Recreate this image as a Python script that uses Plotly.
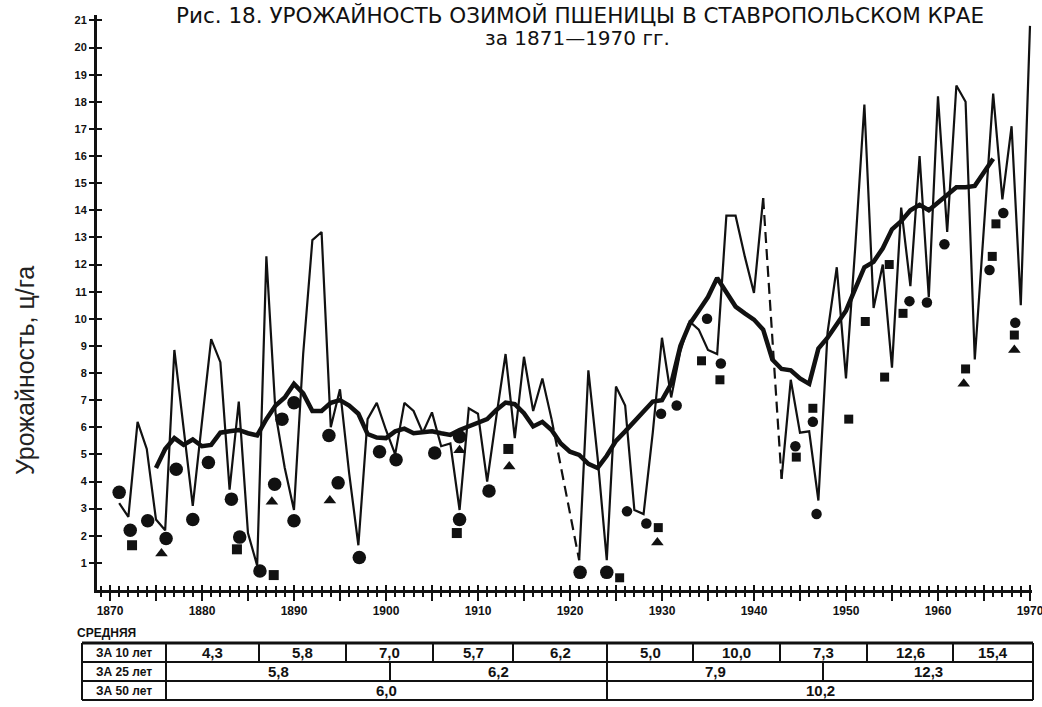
import plotly.graph_objects as go

# ---------------- DATA ----------------
years = list(range(1871, 1971))
# annual yield of winter wheat, c/ha (None = no data)
yield_annual = [
    3.2, 2.7, 6.2, 5.2, 2.6, 2.2, 8.85, 6.0, 3.1, 6.2,        # 1871-1880
    9.25, 8.4, 3.7, 6.95, 2.1, 0.9, 12.3, 6.5, 4.5, 2.95,     # 1881-1890
    8.7, 12.9, 13.2, 6.0, 7.4, 4.3, 1.65, 6.3, 6.9, 5.9,      # 1891-1900
    5.0, 6.9, 6.6, 5.8, 6.55, 5.3, 5.4, 2.95, 6.7, 6.5,       # 1901-1910
    4.0, 6.4, 8.7, 5.6, 8.6, 6.6, 7.8, 6.3, None, None,       # 1911-1920
    1.1, 8.1, 4.9, 1.1, 7.5, 6.8, 2.95, 2.8, 5.8, 9.3,        # 1921-1930
    7.1, 8.8, 9.9, 9.6, 8.85, 8.7, 13.8, 13.8, 12.3, 10.95,   # 1931-1940
    14.45, None, 4.1, 7.75, 5.8, 5.85, 3.3, 9.5, 11.9, 7.8,   # 1941-1950
    12.6, 17.9, 10.4, 12.0, 8.2, 14.1, 11.2, 16.0, 10.8, 18.2,  # 1951-1960
    13.2, 18.6, 18.0, 8.5, 13.4, 18.3, 14.4, 17.1, 10.5, 20.8,  # 1961-1970
]
# gaps bridged by dashed lines (start year, end year)
dashed_gaps = [(1918, 1921), (1941, 1943)]

# smoothed (moving average) yield
avg_years = list(range(1875, 1967))
avg_yield = [
    4.5, 5.2, 5.6, 5.35, 5.55, 5.3,                              # 1875-1880
    5.35, 5.8, 5.85, 5.9, 5.78, 5.7, 6.3, 6.8, 7.1, 7.6,         # 1881-1890
    7.25, 6.6, 6.6, 6.9, 7.0, 6.8, 6.5, 5.75, 5.62, 5.6,         # 1891-1900
    5.85, 5.95, 5.78, 5.82, 5.85, 5.78, 5.72, 5.9, 6.03, 6.15,   # 1901-1910
    6.3, 6.64, 6.91, 6.85, 6.52, 6.03, 6.2, 5.9, 5.4, 5.1,       # 1911-1920
    4.98, 4.65, 4.5, 4.95, 5.5, 5.85, 6.2, 6.6, 6.95, 7.0,       # 1921-1930
    7.6, 9.0, 9.8, 10.3, 10.8, 11.5, 11.0, 10.45, 10.2, 9.97,    # 1931-1940
    9.6, 8.5, 8.15, 8.1, 7.8, 7.6, 8.9, 9.3, 9.8, 10.3,          # 1941-1950
    11.1, 11.9, 12.1, 12.6, 13.3, 13.6, 14.0, 14.2, 14.0, 14.3,  # 1951-1960
    14.6, 14.85, 14.85, 14.9, 15.4, 15.9,                        # 1961-1966
]

# special-year symbols (year, value)
circle_years = [1871.0, 1872.2, 1874.1, 1876.1, 1877.2, 1879.0, 1880.7, 1883.2, 1884.1,
                1886.3, 1887.9, 1888.7, 1890.0, 1890.0, 1893.8, 1894.8, 1897.1, 1899.3,
                1901.1, 1905.3, 1908.0, 1908.0, 1911.2, 1921.1, 1924.0, 1926.2, 1928.3,
                1929.9, 1931.6, 1934.9, 1936.4, 1944.5, 1946.4, 1946.8, 1956.9, 1958.8,
                1960.7, 1965.6, 1967.1, 1968.4]
circle_vals = [3.6, 2.2, 2.55, 1.9, 4.45, 2.6, 4.7, 3.35, 1.95,
               0.7, 3.9, 6.3, 6.9, 2.55, 5.7, 3.95, 1.2, 5.1,
               4.8, 5.05, 5.65, 2.6, 3.65, 0.65, 0.65, 2.9, 2.45,
               6.5, 6.8, 10.0, 8.35, 5.3, 6.2, 2.8, 10.65, 10.6,
               12.75, 11.8, 13.9, 9.85]
square_years = [1872.4, 1883.8, 1887.8, 1907.7, 1913.3, 1925.4, 1929.6, 1934.3, 1936.3,
                1944.6, 1946.4, 1950.3, 1952.1, 1954.2, 1954.7, 1956.2, 1963.0, 1965.9,
                1966.3, 1968.3]
square_vals = [1.65, 1.5, 0.55, 2.1, 5.2, 0.45, 2.3, 8.45, 7.75,
               4.9, 6.7, 6.3, 9.9, 7.85, 12.0, 10.2, 8.15, 12.3,
               13.5, 9.4]
triangle_years = [1875.6, 1887.6, 1893.9, 1908.0, 1913.4, 1929.5, 1962.8, 1968.3]
triangle_vals = [1.35, 3.25, 3.3, 5.15, 4.55, 1.75, 7.6, 8.85]

# axis ticks
x_tick_vals = [1870, 1875, 1880, 1885, 1890, 1895, 1900, 1905, 1910, 1915, 1920,
               1925, 1930, 1935, 1940, 1945, 1950, 1955, 1960, 1965, 1970]
x_tick_text = ["1870", "", "1880", "", "1890", "", "1900", "", "1910", "", "1920",
               "", "1930", "", "1940", "", "1950", "", "1960", "", "1970"]
y_tick_vals = [1, 2, 3, 4, 5, 6, 7, 8, 9, 10, 11, 12, 13, 14, 15, 16, 17, 18, 19, 20, 21]

# table of means
table_header = "СРЕДНЯЯ"
period_labels = ["ЗА 10 лет", "ЗА 25 лет", "ЗА 50 лет"]
means_10 = [4.3, 5.8, 7.0, 5.7, 6.2, 5.0, 10.0, 7.3, 12.6, 15.4]
means_25 = [5.8, 6.2, 7.9, 12.3]
means_50 = [6.0, 10.2]

title_line1 = "Рис. 18. УРОЖАЙНОСТЬ ОЗИМОЙ ПШЕНИЦЫ В СТАВРОПОЛЬСКОМ КРАЕ"
title_line2 = "за 1871—1970 гг."
y_title = "Урожайность, ц/га"

# ---------------- LAYOUT GEOMETRY (pixels) ----------------
W, H = 1042, 707
PL, PR, PT, PB = 97, 1032, 15, 590     # plot area edges
X_RANGE = [1868.59, 1970.22]
Y_RANGE = [0, 21.2]


def px(xp):
    return (xp - PL) / (PR - PL)


def py(yp):
    return (PB - yp) / (PB - PT)


INK = "#111111"
SANS = "Liberation Sans, Arial, sans-serif"
TITLE_FONT = "DejaVu Sans, Liberation Sans, sans-serif"

fig = go.Figure()

# thin annual line (solid, gaps where no data)
fig.add_trace(go.Scatter(x=years, y=yield_annual, mode="lines",
                         line=dict(color=INK, width=2.2), connectgaps=False,
                         hoverinfo="skip", showlegend=False))
# dashed bridges across missing years
for y0, y1 in dashed_gaps:
    i0, i1 = years.index(y0), years.index(y1)
    fig.add_trace(go.Scatter(x=[years[i0], years[i1]],
                             y=[yield_annual[i0], yield_annual[i1]],
                             mode="lines", line=dict(color=INK, width=2.2, dash="11px,6px"),
                             hoverinfo="skip", showlegend=False))
# thick moving average
fig.add_trace(go.Scatter(x=avg_years, y=avg_yield, mode="lines",
                         line=dict(color=INK, width=4.5),
                         hoverinfo="skip", showlegend=False))
# symbols
circle_sizes = [13.5 if yr < 1925 else 10.5 for yr in circle_years]
fig.add_trace(go.Scatter(x=circle_years, y=circle_vals, mode="markers",
                         marker=dict(symbol="circle", size=circle_sizes, color=INK,
                                     opacity=1, line=dict(width=0)),
                         hoverinfo="skip", showlegend=False))
square_sizes = [10 if yr < 1925 else 9 for yr in square_years]
fig.add_trace(go.Scatter(x=square_years, y=square_vals, mode="markers",
                         marker=dict(symbol="square", size=square_sizes, color=INK,
                                     opacity=1, line=dict(width=0)),
                         hoverinfo="skip", showlegend=False))
fig.add_trace(go.Scatter(x=triangle_years, y=triangle_vals, mode="markers",
                         marker=dict(symbol="triangle-up", size=11, color=INK,
                                     opacity=1, line=dict(width=0)),
                         hoverinfo="skip", showlegend=False))
# invisible trace to activate the overlay axes (inside half of the cross ticks)
fig.add_trace(go.Scatter(x=[years[0]], y=[yield_annual[0]], xaxis="x2", yaxis="y2",
                         mode="markers", marker=dict(opacity=0), hoverinfo="skip",
                         showlegend=False))

tickfont = dict(family=SANS, size=12, color=INK, weight="bold")

fig.update_layout(
    width=W, height=H, template="none",
    margin=dict(l=PL, r=W - PR, t=PT, b=H - PB, pad=0),
    plot_bgcolor="white", paper_bgcolor="white", showlegend=False,
    xaxis=dict(range=X_RANGE, showline=True, linewidth=3, linecolor=INK,
               showgrid=False, zeroline=False, tickmode="array",
               tickvals=x_tick_vals, ticktext=x_tick_text,
               ticks="outside", ticklen=8, tickwidth=2, tickcolor=INK,
               ticklabeloverflow="allow",
               minor=dict(tickmode="linear", tick0=1870, dtick=1, ticks="outside",
                          ticklen=4, tickwidth=1.5, tickcolor=INK, showgrid=False),
               tickfont=tickfont),
    xaxis2=dict(overlaying="x", matches="x", anchor="y", side="bottom",
                showline=False, showgrid=False, zeroline=False, tickmode="array",
                tickvals=x_tick_vals, ticks="inside", ticklen=5, tickwidth=2,
                tickcolor=INK, showticklabels=False,
                minor=dict(tickmode="linear", tick0=1870, dtick=1, ticks="inside",
                           ticklen=4, tickwidth=1.5, tickcolor=INK, showgrid=False)),
    yaxis=dict(range=Y_RANGE, showline=True, linewidth=3, linecolor=INK,
               showgrid=False, zeroline=False, tickmode="array", tickvals=y_tick_vals,
               ticks="outside", ticklen=5, tickwidth=2, tickcolor=INK,
               tickfont=dict(family=SANS, size=11, color=INK, weight="bold")),
    yaxis2=dict(overlaying="y", matches="y", anchor="x", side="left",
                showline=False, showgrid=False, zeroline=False, tickmode="array",
                tickvals=y_tick_vals, ticks="inside", ticklen=5, tickwidth=2,
                tickcolor=INK, showticklabels=False),
)

annotations = []
# titles
annotations.append(dict(text=title_line1, x=px(580), y=py(15), xref="paper", yref="paper",
                        showarrow=False, xanchor="center", yanchor="middle",
                        font=dict(family=TITLE_FONT, size=21.5, color=INK)))
annotations.append(dict(text=title_line2, x=px(577), y=py(38), xref="paper", yref="paper",
                        showarrow=False, xanchor="center", yanchor="middle",
                        font=dict(family=TITLE_FONT, size=20, color=INK)))
# y axis title
annotations.append(dict(text=y_title, x=px(25), y=py(371), xref="paper", yref="paper",
                        showarrow=False, textangle=-90, xanchor="center", yanchor="middle",
                        font=dict(family=SANS, size=25, color="#222222")))

# ---------------- TABLE ----------------
T_LEFT, T_LABEL, T_RIGHT = 82, 166, 1033
row_lines = [643, 662, 681, 700]
bounds_10 = [166, 259, 346, 433, 513, 607, 693, 780, 867, 953, 1033]
bounds_25 = [166, 390, 607, 823, 1033]
bounds_50 = [166, 607, 1033]

shapes = []


def hline(yp, x0, x1, w=2):
    shapes.append(dict(type="line", xref="paper", yref="paper", x0=px(x0), x1=px(x1),
                       y0=py(yp), y1=py(yp), line=dict(color=INK, width=w)))


def vline(xp, y0, y1, w=2):
    shapes.append(dict(type="line", xref="paper", yref="paper", x0=px(xp), x1=px(xp),
                       y0=py(y0), y1=py(y1), line=dict(color=INK, width=w)))


hline(row_lines[0], T_LEFT, T_RIGHT, 3)
for yl in row_lines[1:]:
    hline(yl, T_LEFT, T_RIGHT, 2)
vline(T_LEFT, row_lines[0], row_lines[3], 2)
vline(T_RIGHT, row_lines[0], row_lines[3], 2)

annotations.append(dict(text=table_header, x=px(75), y=py(633), xref="paper", yref="paper",
                        showarrow=False, xanchor="left", yanchor="middle",
                        font=dict(family=SANS, size=12, color=INK, weight="bold")))

rows = [(bounds_10, means_10), (bounds_25, means_25), (bounds_50, means_50)]
for r, (bounds, vals) in enumerate(rows):
    top, bot = row_lines[r], row_lines[r + 1]
    yc = (top + bot) / 2
    for b in bounds[:-1]:
        vline(b, top, bot, 2)
    annotations.append(dict(text=period_labels[r], x=px((T_LEFT + T_LABEL) / 2), y=py(yc),
                            xref="paper", yref="paper", showarrow=False,
                            xanchor="center", yanchor="middle",
                            font=dict(family=SANS, size=12, color=INK, weight="bold")))
    for i, v in enumerate(vals):
        xc = (bounds[i] + bounds[i + 1]) / 2
        annotations.append(dict(text=f"{v:.1f}".replace(".", ","), x=px(xc), y=py(yc),
                                xref="paper", yref="paper", showarrow=False,
                                xanchor="center", yanchor="middle",
                                font=dict(family=SANS, size=15, color=INK, weight="bold")))

fig.update_layout(annotations=annotations, shapes=shapes)

fig.write_html("out.html", config={"displayModeBar": False},
               post_script="document.body.style.margin='0px';document.body.style.overflow='hidden';")
